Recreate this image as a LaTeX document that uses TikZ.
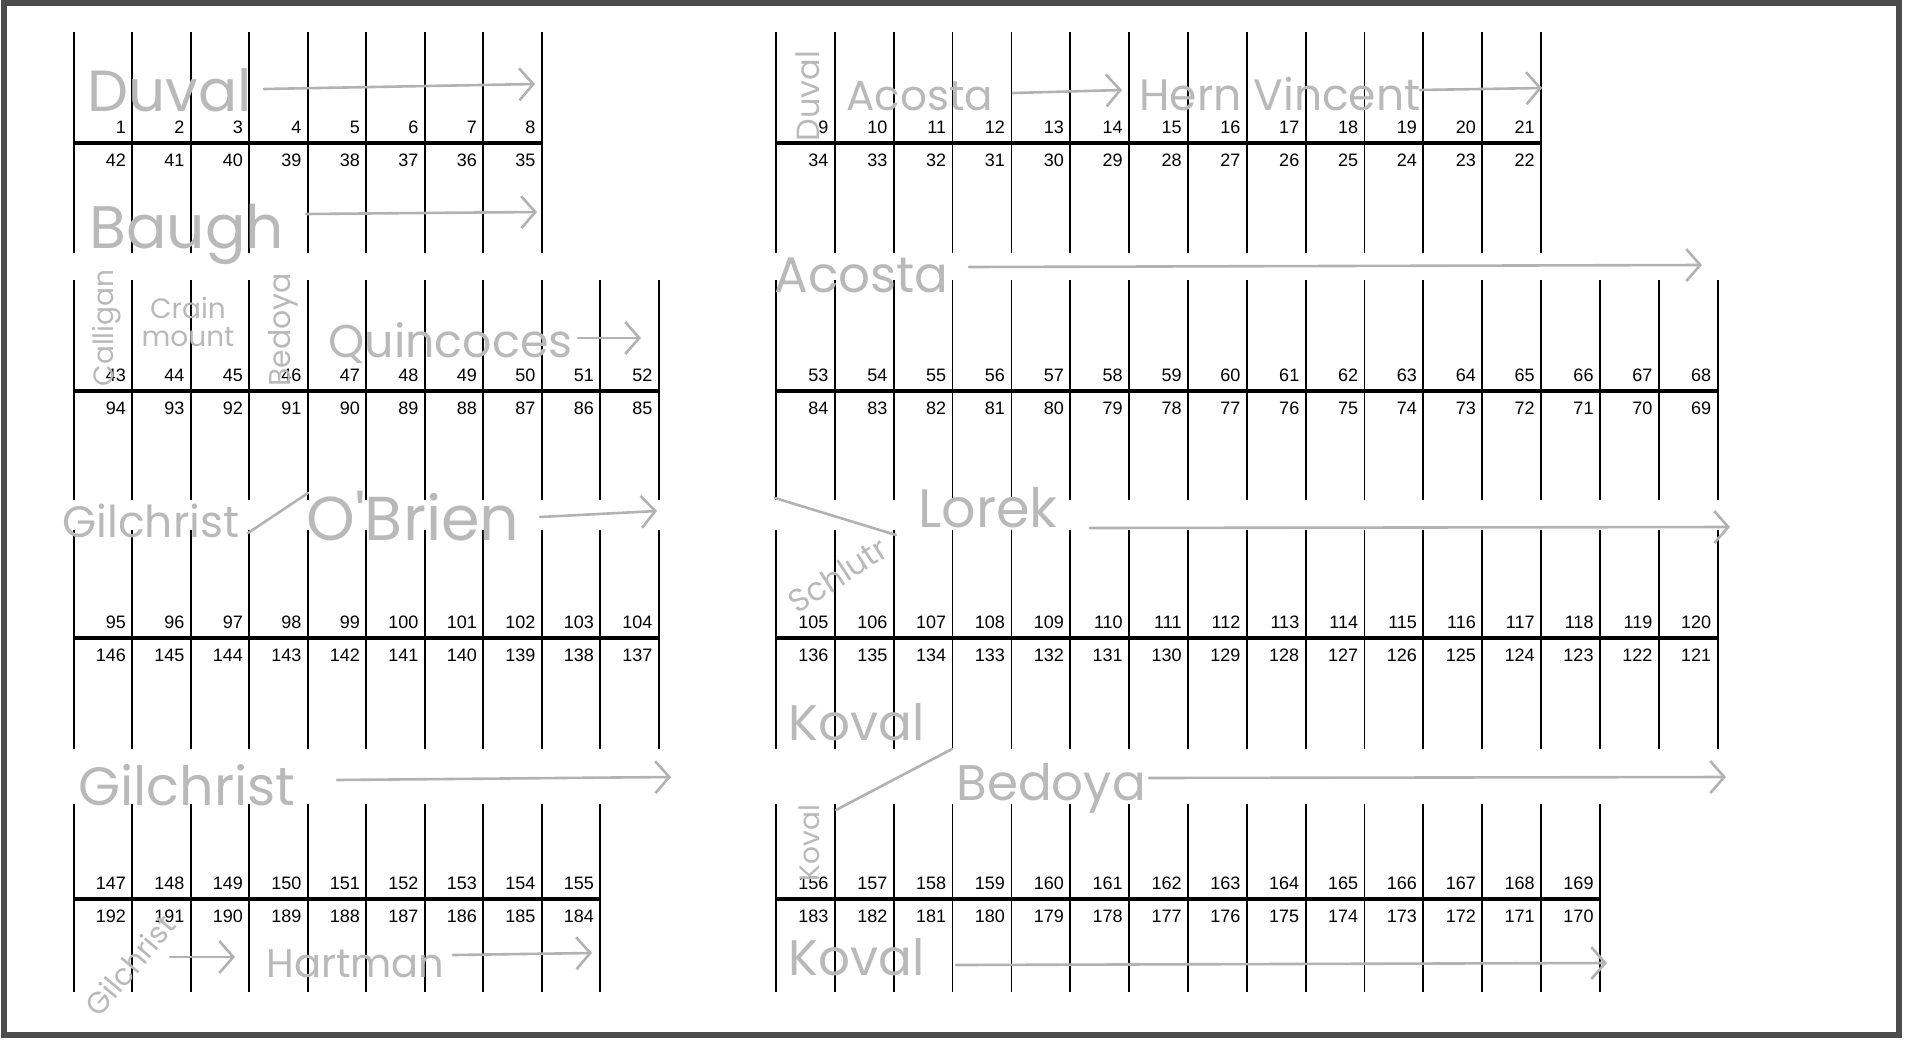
\documentclass[tikz,border=0pt]{standalone}
\usepackage{fontspec}
\setmainfont{Liberation Sans}
\newfontfamily\hand{Poppins}
\usetikzlibrary{arrows.meta}

\tikzset{
  lotnum/.style={font=\fontsize{9}{10}\selectfont, inner sep=0pt},
  lotline/.style={line width=0.9pt},
  spine/.style={line width=2pt},
  pencil/.style={draw=gray!60, line width=1.3pt, line cap=round},
  pencilarrow/.style={pencil, -{Straight Barb[length=7pt,width=16pt,line width=1.3pt]}},
  hand/.style={font=\hand, text=gray!55, inner sep=0pt},
}
\newcommand{\hs}[1]{\fontsize{#1}{#1}\selectfont}

% \lotrow{x0}{top}{spine}{bottom}{lots}{first top}{first bottom}{name}{width}
\newcommand{\lotrow}[9]{%
  \pgfmathsetmacro{\xend}{#1+#5*#9}
  \draw[spine] (#1,#3) -- (\xend,#3);
  \foreach \i in {0,...,#5}
    \draw[lotline] ({#1+\i*#9},#2) -- ({#1+\i*#9},#4);
  \foreach \i in {1,...,#5}{
    \pgfmathtruncatemacro{\up}{#6+\i-1}
    \pgfmathtruncatemacro{\dn}{#7-\i+1}
    \node[lotnum, anchor=base east] (#8t\i) at ({#1+\i*#9-6},{#3-10}) {\up};
    \node[lotnum, anchor=north east] (#8b\i) at ({#1+\i*#9-6},{#3+11}) {\dn};
  }
}

\begin{document}
\begin{tikzpicture}[x=0.5pt, y=-0.5pt]
  \useasboundingbox (0,0) rectangle (1906,1039);
  \draw[black!70, line width=3pt] (4,3) rectangle (1899,1035);

  % lot rows
  \lotrow{73.7}{32}{143}{253}{8}{1}{42}{a}{58.5}
  \lotrow{776}{32}{143}{253}{13}{9}{34}{b}{58.85}
  \lotrow{73.7}{280}{391}{500}{10}{43}{94}{c}{58.5}
  \lotrow{776}{280}{391}{500}{16}{53}{84}{d}{58.85}
  \lotrow{73.7}{530}{638}{749}{10}{95}{146}{e}{58.5}
  \lotrow{776}{530}{638}{749}{16}{105}{136}{f}{58.85}
  \lotrow{73.7}{804}{899}{992}{9}{147}{192}{g}{58.5}
  \lotrow{776}{804}{899}{992}{14}{156}{183}{h}{58.85}

  % names, left side
  \node[hand, anchor=base west, font=\hand\hs{29}] (duvalA) at (87,111) {Duval};
  \draw[pencilarrow] (264,89) -- (535,84);
  \node[hand, anchor=base west, font=\hand\hs{30}] (baugh) at (89,248) {Baugh};
  \draw[pencilarrow] (306,214) -- (537,212);
  \node[hand, rotate=90, font=\hand\hs{14}] (calligan) at (107,328) {Calligan};
  \node[hand, align=center, font=\hand\hs{14}] (crain) at (188,322) {Crain\\mount};
  \node[hand, rotate=90, font=\hand\hs{15}] (bedoyaA) at (283,330) {Bedoya};
  \node[hand, anchor=base west, font=\hand\hs{23}] (quincoces) at (328,357) {Quincoces};
  \draw[pencilarrow] (578,338) -- (641,338);
  \node[hand, anchor=base west, font=\hand\hs{22}] (gilchristA) at (62,537) {Gilchrist};
  \draw[pencil] (248,533) -- (308,493);
  \node[hand, anchor=base west, font=\hand\hs{31}] (obrien) at (306,540) {O'Brien};
  \draw[pencilarrow] (540,517) -- (657,511);
  \node[hand, anchor=base west, font=\hand\hs{27}] (gilchristB) at (78,805) {Gilchrist};
  \draw[pencilarrow] (337,780) -- (671,777);
  \node[hand, rotate=50, font=\hand\hs{15}] (gilchristC) at (130,965) {Gilchrist};
  \draw[pencilarrow] (170,957) -- (235,957);
  \node[hand, anchor=base west, font=\hand\hs{20}] (hartman) at (266,977) {Hartman};
  \draw[pencilarrow] (453,955) -- (592,953);

  % names, right side
  \node[hand, rotate=90, font=\hand\hs{16}] (duvalB) at (808,96) {Duval};
  \node[hand, anchor=base west, font=\hand\hs{21}] (acostaA) at (846,110) {Acosta};
  \draw[pencilarrow] (1013,93) -- (1122,90);
  \node[hand, anchor=base west, font=\hand\hs{22}] (vincent) at (1139,110) {Hern Vincent};
  \draw[pencilarrow] (1420,90) -- (1542,88);
  \node[hand, anchor=base west, font=\hand\hs{25}] (acostaB) at (774,292) {Acosta};
  \draw[pencilarrow] (969,267) -- (1702,265);
  \draw[pencil] (775,498) -- (896,535);
  \node[hand, rotate=33, font=\hand\hs{16}] (schlutr) at (838,575) {Schlutr};
  \node[hand, anchor=base west, font=\hand\hs{27}] (lorek) at (918,527) {Lorek};
  \draw[pencilarrow] (1090,528) -- (1730,527);
  \node[hand, anchor=base west, font=\hand\hs{25}] (kovalA) at (788,740) {Koval};
  \draw[pencil] (836,810) -- (952,749);
  \node[hand, rotate=90, font=\hand\hs{14}] (kovalB) at (809,843) {Koval};
  \node[hand, anchor=base west, font=\hand\hs{25}] (bedoyaB) at (956,800) {Bedoya};
  \draw[pencilarrow] (1149,778) -- (1726,777);
  \node[hand, anchor=base west, font=\hand\hs{25}] (kovalC) at (788,975) {Koval};
  \draw[pencilarrow] (956,965) -- (1607,963);
\end{tikzpicture}
\end{document}
